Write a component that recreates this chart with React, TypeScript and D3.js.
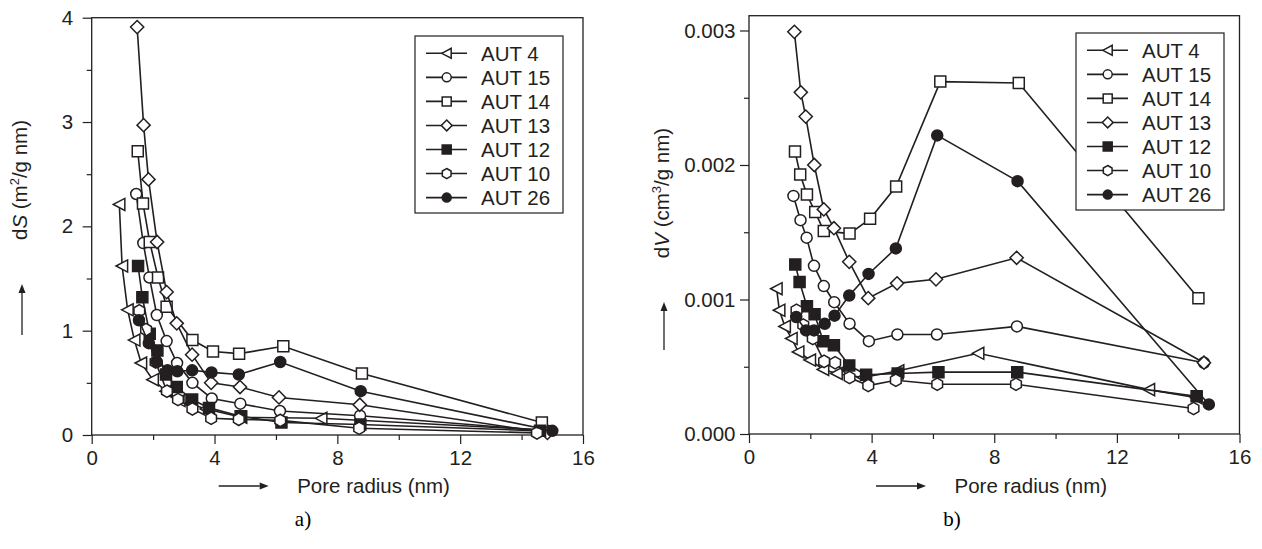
import React, { useRef, useEffect } from 'react';
import * as d3 from 'd3';

// series names, legend order
const seriesNames = ['AUT 4', 'AUT 15', 'AUT 14', 'AUT 13', 'AUT 12', 'AUT 10', 'AUT 26'];
const seriesShapes = ['triangle', 'circle', 'square', 'diamond', 'blacksquare', 'hexagon', 'blackcircle'];

// pore radius (nm) of each point
const r4 = [0.9, 0.99, 1.17, 1.39, 1.61, 1.99, 2.42, 2.86, 3.73, 4.87, 7.48, 13.05, 14.6];
const r15 = [1.45, 1.68, 1.88, 2.12, 2.44, 2.78, 3.28, 3.91, 4.84, 6.13, 8.74, 14.84];
const r14 = [1.5, 1.67, 1.89, 2.16, 2.44, 3.28, 3.95, 4.8, 6.24, 8.8, 14.66];
const r13 = [1.48, 1.69, 1.85, 2.13, 2.44, 2.77, 3.27, 3.89, 4.83, 6.1, 8.73, 14.84];
const r12 = [1.51, 1.65, 1.89, 2.14, 2.42, 2.77, 3.27, 3.82, 4.85, 6.18, 8.75, 14.6];
const r10 = [1.55, 1.77, 2.08, 2.45, 2.81, 3.28, 3.89, 4.79, 6.14, 8.71, 14.5];
const r26 = [1.54, 1.86, 2.12, 2.47, 2.79, 3.27, 3.9, 4.79, 6.14, 8.76, 15.0];

// a) dS (m2/g nm)
const dS4 = [2.21, 1.62, 1.2, 0.91, 0.69, 0.53, 0.42, 0.33, 0.25, 0.17, 0.16, null, 0.05];
const dS15 = [2.31, 1.84, 1.51, 1.15, 0.9, 0.69, 0.5, 0.35, 0.3, 0.23, 0.185, 0.04];
const dS14 = [2.72, 2.22, 1.85, 1.51, 1.23, 0.91, 0.8, 0.78, 0.85, 0.59, 0.12];
const dS13 = [3.91, 2.97, 2.45, 1.85, 1.37, 1.07, 0.77, 0.5, 0.46, 0.36, 0.29, 0.02];
const dS12 = [1.62, 1.32, 0.97, 0.81, 0.58, 0.46, 0.34, 0.26, 0.18, 0.12, 0.1, 0.04];
const dS10 = [1.19, 1.01, 0.7, 0.42, 0.34, 0.25, 0.16, 0.15, 0.14, 0.065, 0.02];
const dS26 = [1.1, 0.88, 0.7, 0.62, 0.61, 0.62, 0.6, 0.58, 0.7, 0.42, 0.04];

// b) dV (cm3/g nm)
const dV4 = [0.00108, 0.00092, 0.0008, 0.00071, 0.00061, 0.00055, 0.00048, 0.00045, 0.00042, 0.00047, 0.0006, 0.00033, 0.00027];
const dV15 = [0.00177, 0.00159, 0.00146, 0.00125, 0.0011, 0.00098, 0.00082, 0.00069, 0.00074, 0.00074, 0.0008, 0.00053];
const dV14 = [0.0021, 0.00193, 0.00178, 0.00165, 0.00151, 0.00149, 0.0016, 0.00184, 0.00262, 0.00261, 0.00101];
const dV13 = [0.00299, 0.00254, 0.00236, 0.002, 0.00167, 0.00153, 0.00128, 0.00101, 0.00112, 0.00115, 0.00131, 0.00053];
const dV12 = [0.00126, 0.00113, 0.00095, 0.00089, 0.00069, 0.00066, 0.00051, 0.00044, 0.00045, 0.00046, 0.00046, 0.00028];
const dV10 = [0.00092, 0.00081, 0.00071, 0.00054, 0.00053, 0.00042, 0.00036, 0.0004, 0.00037, 0.00037, 0.00019];
const dV26 = [0.00087, 0.00077, 0.00077, 0.00082, 0.00088, 0.00103, 0.00119, 0.00138, 0.00222, 0.00188, 0.00022];

const xTicks = [0, 4, 8, 12, 16];
const xMinorTicks = [2, 6, 10, 14];
const dSTicks = [0, 1, 2, 3, 4];
const dSMinorTicks = [0.5, 1.5, 2.5, 3.5];
const dVTicks = [0, 0.001, 0.002, 0.003];
const dVMinorTicks = [0.0005, 0.0015, 0.0025];

const radii = [r4, r15, r14, r13, r12, r10, r26];
const dSValues = [dS4, dS15, dS14, dS13, dS12, dS10, dS26];
const dVValues = [dV4, dV15, dV14, dV13, dV12, dV10, dV26];

const ink = '#231f20';
const font = '"Liberation Sans", Arial, Helvetica, sans-serif';
const fontSize = 20.5;

const markerPath = (shape: string, s: number) => {
  const h = s / 2;
  if (shape === 'triangle') return `M${-h * 1.1},0L${h},${-h * 1.1}L${h},${h * 1.1}Z`;
  if (shape === 'square' || shape === 'blacksquare') return `M${-h},${-h}H${h}V${h}H${-h}Z`;
  if (shape === 'diamond') return `M0,${-h * 1.2}L${h * 1.2},0L0,${h * 1.2}L${-h * 1.2},0Z`;
  if (shape === 'hexagon') {
    const pts = d3.range(6).map(i => {
      const a = (Math.PI / 3) * i - Math.PI / 2;
      return [Math.cos(a) * h * 1.12, Math.sin(a) * h * 1.12];
    });
    return 'M' + pts.map(p => p.join(',')).join('L') + 'Z';
  }
  return '';
};

const drawMarker = (g: any, shape: string, x: number, y: number, s: number) => {
  const fill = shape.startsWith('black') ? ink : '#fff';
  if (shape === 'circle' || shape === 'blackcircle') {
    g.append('circle').attr('cx', x).attr('cy', y).attr('r', s / 2)
      .attr('fill', fill).attr('stroke', ink).attr('stroke-width', 1.5);
  } else {
    g.append('path').attr('d', markerPath(shape, s)).attr('transform', `translate(${x},${y})`)
      .attr('fill', fill).attr('stroke', ink).attr('stroke-width', 1.5);
  }
};

const arrow = (svg: any, x1: number, y1: number, x2: number, y2: number) => {
  const ang = Math.atan2(y2 - y1, x2 - x1);
  const len = 9, wid = 3.5;
  const bx = x2 - Math.cos(ang) * len, by = y2 - Math.sin(ang) * len;
  svg.append('line').attr('x1', x1).attr('y1', y1).attr('x2', bx).attr('y2', by)
    .attr('stroke', ink).attr('stroke-width', 1.3);
  svg.append('path')
    .attr('d', `M${x2},${y2}L${bx - Math.sin(ang) * wid},${by + Math.cos(ang) * wid}L${bx + Math.sin(ang) * wid},${by - Math.cos(ang) * wid}Z`)
    .attr('fill', ink);
};

const panels = [
  {
    values: dSValues, left: 91.7, right: 583, top: 17.7, bottom: 435, yMax: 4,
    yTicks: dSTicks, yMinor: dSMinorTicks, yFmt: d3.format('d'), yPad: 9.5,
    legendX: 415, legendY: 36, label: 'a)', labelX: 303,
    titleX: 27, titleY: 180, letter: 'S', unit: 'm', power: '2', yArrowX: 22, yArrowY: [335, 284],
  },
  {
    values: dVValues, left: 749, right: 1239.5, top: 15.7, bottom: 434, yMax: 0.00311,
    yTicks: dVTicks, yMinor: dVMinorTicks, yFmt: d3.format('.3f'), yPad: 4.5,
    legendX: 1076, legendY: 33, label: 'b)', labelX: 952,
    titleX: 669, titleY: 193, letter: 'V', unit: 'cm', power: '3', yArrowX: 664, yArrowY: [350, 302],
  },
];

const App = () => {
  const chartRef = useRef(null);

  useEffect(() => {
    const svg = d3.select(chartRef.current).html('');

    panels.forEach(p => {
      const x = d3.scaleLinear().domain([0, 16]).range([p.left, p.right]);
      const y = d3.scaleLinear().domain([0, p.yMax]).range([p.bottom, p.top]);

      // minor ticks
      svg.append('g').attr('transform', `translate(0,${p.bottom})`)
        .call(d3.axisBottom(x).tickValues(xMinorTicks).tickSize(5).tickFormat(() => ''))
        .call(g => g.select('.domain').remove());
      svg.append('g').attr('transform', `translate(${p.left},0)`)
        .call(d3.axisLeft(y).tickValues(p.yMinor).tickSize(5).tickFormat(() => ''))
        .call(g => g.select('.domain').remove());

      // major ticks + labels
      const xa = svg.append('g').attr('transform', `translate(0,${p.bottom})`)
        .call(d3.axisBottom(x).tickValues(xTicks).tickSize(9).tickPadding(6.5).tickFormat(d3.format('d')));
      const ya = svg.append('g').attr('transform', `translate(${p.left},0)`)
        .call(d3.axisLeft(y).tickValues(p.yTicks).tickSize(9).tickPadding(p.yPad).tickFormat(p.yFmt));
      [xa, ya].forEach(a => {
        a.select('.domain').remove();
        a.selectAll('text').attr('font-size', fontSize).attr('font-family', font).attr('fill', ink);
      });
      svg.selectAll('.tick line').attr('stroke', ink).attr('stroke-width', 1.2);

      // frame
      svg.append('rect')
        .attr('x', p.left).attr('y', p.top)
        .attr('width', p.right - p.left).attr('height', p.bottom - p.top)
        .attr('fill', 'none').attr('stroke', ink).attr('stroke-width', 1.3);

      // series
      const line = d3.line().x(d => x(d[0])).y(d => y(d[1]));
      const marks = svg.append('g');
      seriesNames.forEach((name, i) => {
        const pts = radii[i].map((r, j) => [r, p.values[i][j]]).filter(d => d[1] != null);
        marks.append('path').attr('d', line(pts)).attr('fill', 'none')
          .attr('stroke', ink).attr('stroke-width', 1.6);
        pts.forEach(d => drawMarker(marks, seriesShapes[i], x(d[0]), y(d[1]), 11));
      });

      // legend
      const lg = svg.append('g').attr('transform', `translate(${p.legendX},${p.legendY})`);
      lg.append('rect').attr('width', 148).attr('height', 177)
        .attr('fill', '#fff').attr('stroke', ink).attr('stroke-width', 1.2);
      seriesNames.forEach((name, i) => {
        const cy = 17.3 + i * 24.05;
        lg.append('line').attr('x1', 11).attr('x2', 52).attr('y1', cy).attr('y2', cy)
          .attr('stroke', ink).attr('stroke-width', 1.6);
        drawMarker(lg, seriesShapes[i], 31.7, cy, 9);
        lg.append('text').attr('x', 66).attr('y', cy + 7.3).text(name)
          .attr('font-size', fontSize).attr('font-family', font).attr('fill', ink);
      });

      // y title
      const yt = svg.append('text')
        .attr('transform', `translate(${p.titleX},${p.titleY}) rotate(-90)`)
        .attr('text-anchor', 'middle')
        .attr('font-size', fontSize).attr('font-family', font).attr('fill', ink);
      yt.append('tspan').text('d');
      yt.append('tspan').attr('font-style', 'italic').text(p.letter);
      yt.append('tspan').text(` (${p.unit}`);
      yt.append('tspan').attr('dy', -8).attr('font-size', 13).text(p.power);
      yt.append('tspan').attr('dy', 8).text('/g nm)');
      arrow(svg, p.yArrowX, p.yArrowY[0], p.yArrowX, p.yArrowY[1]);

      // x title
      svg.append('text').attr('x', p.left + 205.5).attr('y', 493).text('Pore radius (nm)')
        .attr('font-size', fontSize).attr('font-family', font).attr('fill', ink);
      arrow(svg, p.left + 127, 486, p.left + 177, 486);

      svg.append('text').attr('x', p.labelX).attr('y', 526).attr('text-anchor', 'middle')
        .text(p.label)
        .attr('font-size', 21).attr('font-family', '"Liberation Serif", "Times New Roman", serif')
        .attr('fill', '#000');
    });
  }, []);

  return (
    <svg ref={chartRef} width={1262} height={549}
      style={{ position: 'absolute', left: 0, top: 0, background: '#fff' }}></svg>
  );
};

export default App;
